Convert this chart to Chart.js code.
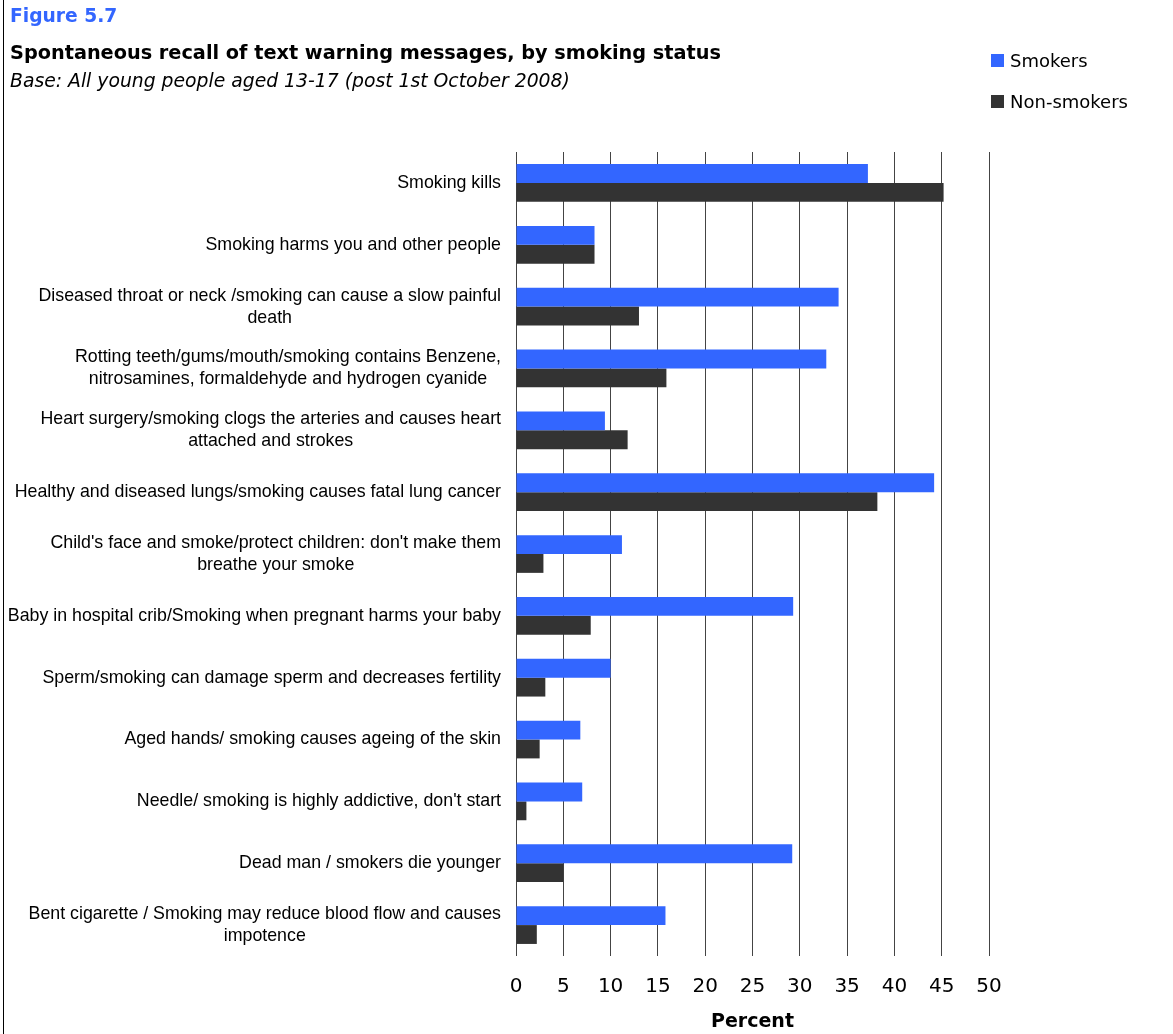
<!DOCTYPE html>
<html>
<head>
<meta charset="utf-8">
<script src="https://cdn.jsdelivr.net/npm/chart.js@4.4.1/dist/chart.umd.min.js"></script>
<style>
  html, body { margin: 0; padding: 0; background: #fff; }
  #wrap { position: relative; width: 1173px; height: 1034px; overflow: hidden; }
  #frame { position: absolute; left: 3px; top: 0; width: 1px; height: 1034px; background: #000; }
  #chart { position: absolute; left: 0; top: 0; }
  .hdr { position: absolute; left: 10px; white-space: nowrap; font-family: "DejaVu Sans", Verdana, sans-serif; line-height: 1.2; }
  #fig { top: 5px; font-size: 18.7px; font-weight: bold; color: #3366ff; }
  #ttl { top: 41px; font-size: 19.3px; font-weight: bold; color: #000; }
  #sub { top: 70px; font-size: 18.8px; font-style: italic; color: #000; }
  #legend { position: absolute; left: 991px; top: 40px; font-family: "DejaVu Sans", Verdana, sans-serif; font-size: 18px; }
  #legend div { height: 41px; display: flex; align-items: center; }
  #legend span.sw { display: inline-block; width: 13px; height: 13px; margin-right: 6px; }
</style>
</head>
<body>
<div id="wrap">
  <div id="frame"></div>
  <canvas id="chart" width="1173" height="1034"></canvas>
  <div class="hdr" id="fig">Figure 5.7</div>
  <div class="hdr" id="ttl">Spontaneous recall of text warning messages, by smoking status</div>
  <div class="hdr" id="sub">Base: All young people aged 13-17 (post 1st October 2008)</div>
  <div id="legend"></div>
</div>
<script>
// warning messages, one entry per row (wrapped lines as arrays)
const messages = [
    "Smoking kills",
    "Smoking harms you and other people",
    ["Diseased throat or neck /smoking can cause a slow painful", "death"],
    ["Rotting teeth/gums/mouth/smoking contains Benzene,", "nitrosamines, formaldehyde and hydrogen cyanide"],
    ["Heart surgery/smoking clogs the arteries and causes heart", "attached and strokes"],
    "Healthy and diseased lungs/smoking causes fatal lung cancer",
    ["Child's face and smoke/protect children: don't make them", "breathe your smoke"],
    "Baby in hospital crib/Smoking when pregnant harms your baby",
    "Sperm/smoking can damage sperm and decreases fertility",
    "Aged hands/ smoking causes ageing of the skin",
    "Needle/ smoking is highly addictive, don't start",
    "Dead man / smokers die younger",
    ["Bent cigarette / Smoking may reduce blood flow and causes", "impotence"]
];

// percent recalling each message
const smokers    = [37.2, 8.3, 34.1, 32.8, 9.4, 44.2, 11.2, 29.3, 10.0, 6.8, 7.0, 29.2, 15.8];
const nonSmokers = [45.2, 8.3, 13.0, 15.9, 11.8, 38.2, 2.9, 7.9, 3.1, 2.5, 1.1, 5.0, 2.2];

const xTicks = [0, 5, 10, 15, 20, 25, 30, 35, 40, 45, 50];

const seriesNames  = ["Smokers", "Non-smokers"];
const seriesColors = ["#3366ff", "#333333"];

// category labels: block right-aligned against the axis, lines centred inside it
const rowLabels = {
    id: 'rowLabels',
    afterDraw(chart) {
        const ctx = chart.ctx;
        const y = chart.scales.y;
        const right = chart.chartArea.left - 15;
        const lh = 22;
        ctx.save();
        ctx.font = '17.8px "Liberation Sans", Arial, sans-serif';
        ctx.fillStyle = '#000';
        ctx.textAlign = 'center';
        ctx.textBaseline = 'middle';
        messages.forEach(function(m, i) {
            const lines = Array.isArray(m) ? m : [m];
            let w = 0;
            lines.forEach(function(t) { w = Math.max(w, ctx.measureText(t).width); });
            const cx = right - w / 2;
            const cy = y.getPixelForValue(i);
            const top = cy - (lines.length - 1) * lh / 2;
            lines.forEach(function(t, k) { ctx.fillText(t, cx, top + k * lh); });
        });
        ctx.restore();
    }
};

function buildLegend() {
    let html = '';
    seriesNames.forEach(function(n, i) {
        html += '<div><span class="sw" style="background:' + seriesColors[i] + '"></span>' + n + '</div>';
    });
    document.getElementById('legend').innerHTML = html;
}

function drawRecallChart() {
    let ctx = document.getElementById('chart').getContext('2d');
    new Chart(ctx, {
        type: 'bar',
        data: {
            labels: messages,
            datasets: [{
                label: seriesNames[0],
                data: smokers,
                backgroundColor: seriesColors[0],
                categoryPercentage: 0.61,
                barPercentage: 1.0
            }, {
                label: seriesNames[1],
                data: nonSmokers,
                backgroundColor: seriesColors[1],
                categoryPercentage: 0.61,
                barPercentage: 1.0
            }]
        },
        options: {
            indexAxis: 'y',
            responsive: false,
            animation: false,
            layout: {
                padding: { left: 516, right: 184, top: 152, bottom: 1 }
            },
            plugins: {
                legend: { display: false },
                tooltip: { enabled: false }
            },
            scales: {
                y: {
                    display: false
                },
                x: {
                    min: 0,
                    max: 50,
                    afterBuildTicks: function(scale) {
                        scale.ticks = xTicks.map(function(v) { return { value: v }; });
                    },
                    afterFit: function(scale) { scale.height = 77; },
                    grid: { color: '#444', lineWidth: 1, drawTicks: false },
                    border: { display: false },
                    ticks: {
                        padding: 19,
                        color: '#000',
                        font: { family: '"DejaVu Sans", Verdana, sans-serif', size: 20 }
                    },
                    title: {
                        display: true,
                        text: 'Percent',
                        color: '#000',
                        padding: 0,
                        font: { family: '"DejaVu Sans", Verdana, sans-serif', size: 19, weight: 'bold' }
                    }
                }
            }
        },
        plugins: [rowLabels]
    });
}

buildLegend();
drawRecallChart();
</script>
</body>
</html>
